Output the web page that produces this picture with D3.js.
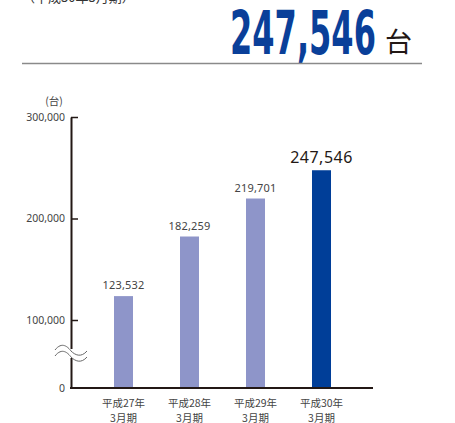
<!DOCTYPE html>
<html>
<head>
<meta charset="utf-8">
<script src="https://cdn.jsdelivr.net/npm/d3@7"></script>
<style>
  html, body { margin: 0; padding: 0; background: #fff; }
  svg { display: block; }
</style>
</head>
<body>
<div id="chart"></div>
<script>
// Fiscal years (two-line labels) and unit counts
const categories = ["平成27年\n3月期", "平成28年\n3月期", "平成29年\n3月期", "平成30年\n3月期"];
const values = [123532, 182259, 219701, 247546];
const tickValues = [0, 100000, 200000, 300000];
const tickLabels = ["0", "100,000", "200,000", "300,000"];
const headlineValue = "247,546";
const headlineUnit = "台";
const subTitle = "（平成30年3月期）";
const unitLabel = "(台)";

const W = 455, H = 423;
const svg = d3.select("#chart").append("svg").attr("width", W).attr("height", H);

const jp = "'Noto Sans CJK JP', 'Noto Sans', sans-serif";
const num = "'Noto Sans', 'Noto Sans CJK JP', sans-serif";

// Header: period note (partly above the frame), large total and rule
svg.append("text").attr("x", 22).attr("y", 2)
  .attr("font-family", jp).attr("font-size", 13).attr("fill", "#333")
  .text(subTitle);

// Large total in a condensed bold face, squeezed horizontally to fit its slot
const head = svg.append("text")
  .attr("font-family", "'Liberation Sans Narrow', 'DejaVu Sans Condensed', sans-serif")
  .attr("font-weight", "bold").attr("font-size", 60)
  .attr("fill", "#0a3f99")
  .text(headlineValue);
const hw = head.node().getComputedTextLength();
head.attr("transform", `translate(230,53.5) scale(${146 / hw},1)`);

svg.append("text").attr("x", 385).attr("y", 52)
  .attr("font-family", jp).attr("font-size", 27).attr("fill", "#231815")
  .text(headlineUnit);

svg.append("line").attr("x1", 22).attr("x2", 422).attr("y1", 63.5).attr("y2", 63.5)
  .attr("stroke", "#8a8a8a").attr("stroke-width", 1.5);

// Scales: the 0–100,000 range is compressed (broken axis)
const y = d3.scaleLinear().domain([0, 100000, 300000]).range([388, 320, 117]);
const x = d3.scaleBand().domain(categories).range([90.5, 354.5]).paddingInner(0.712).paddingOuter(0.356);

// Y axis
const yAxis = d3.axisLeft(y).tickValues(tickValues)
  .tickFormat((d, i) => tickLabels[i]).tickSizeInner(-7).tickSizeOuter(0).tickPadding(13);
const gy = svg.append("g").attr("transform", "translate(71,0)").call(yAxis);
gy.select(".domain").attr("stroke", "#231815").attr("stroke-width", 2);
gy.selectAll(".tick line").attr("stroke", "#231815").attr("stroke-width", 1.5);
gy.selectAll(".tick text").attr("font-family", num).attr("font-size", 10.5).attr("fill", "#444")
  .attr("x", -6);
gy.selectAll(".tick").filter(d => d === 0).select("line").remove();

svg.append("text").attr("x", 54).attr("y", 105).attr("text-anchor", "middle")
  .attr("font-family", jp).attr("font-size", 10.5).attr("fill", "#444").text(unitLabel);

// Bars
const barColor = (d, i) => i === values.length - 1 ? "#003e98" : "#8e95c9";
svg.append("g").selectAll("rect").data(values).join("rect")
  .attr("x", (d, i) => x(categories[i]))
  .attr("width", x.bandwidth())
  .attr("y", d => y(d))
  .attr("height", d => y(0) - y(d))
  .attr("fill", barColor);

// X axis baseline
svg.append("line").attr("x1", 70).attr("x2", 373).attr("y1", 388).attr("y2", 388)
  .attr("stroke", "#231815").attr("stroke-width", 2);

// Value labels (the latest year is emphasised)
const last = values.length - 1;
svg.append("g").selectAll("text").data(values).join("text")
  .attr("x", (d, i) => x(categories[i]) + x.bandwidth() / 2)
  .attr("y", d => y(d) - 7)
  .attr("text-anchor", "middle")
  .attr("font-family", num)
  .attr("font-size", (d, i) => i === last ? 16 : 11)
  .attr("letter-spacing", (d, i) => i === last ? 0.5 : 0.2)
  .attr("fill", (d, i) => i === last ? "#231815" : "#444")
  .text(d => d3.format(",")(d));

// Category labels (two lines)
const cat = svg.append("g").selectAll("text").data(categories).join("text")
  .attr("text-anchor", "middle")
  .attr("font-family", jp).attr("font-size", 10.5).attr("fill", "#444");
cat.each(function (d) {
  const t = d3.select(this);
  d.split("\n").forEach((line, k) => {
    t.append("tspan").attr("x", x(d) + x.bandwidth() / 2).attr("y", 406.5 + k * 15.5).text(line);
  });
});

// Axis break mark: two waves across the axis with a gap between them
const wave = (y0) => {
  const p = d3.path();
  p.moveTo(55, y0);
  p.bezierCurveTo(62, y0 - 9, 68, y0 - 3, 71, y0 + 1);
  p.bezierCurveTo(75, y0 + 5, 81, y0 + 8, 87, y0 + 1);
  return p.toString();
};
svg.append("rect").attr("x", 69).attr("y", 349).attr("width", 4).attr("height", 9).attr("fill", "#fff");
svg.append("path").attr("d", wave(350)).attr("fill", "none").attr("stroke", "#666").attr("stroke-width", 1);
svg.append("path").attr("d", wave(356)).attr("fill", "none").attr("stroke", "#666").attr("stroke-width", 1);
</script>
</body>
</html>
